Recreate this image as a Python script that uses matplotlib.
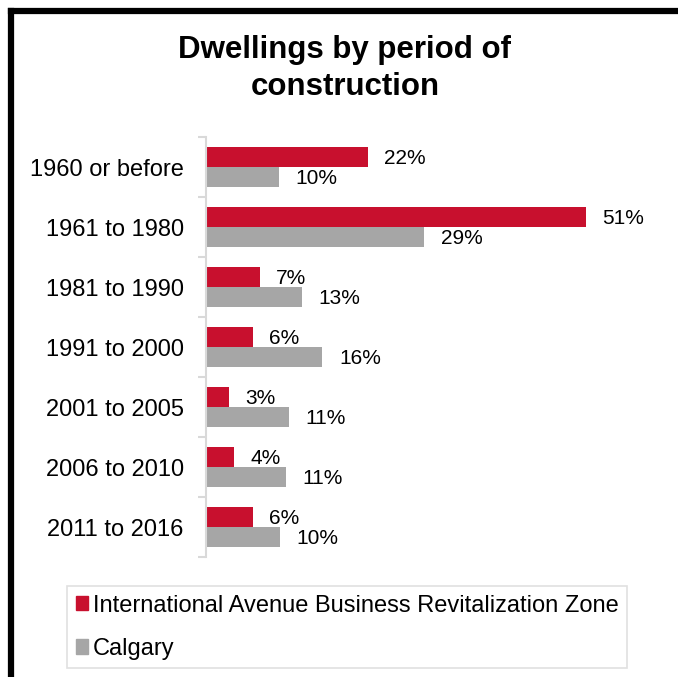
import matplotlib
matplotlib.use("Agg")
import matplotlib.pyplot as plt
import numpy as np
from matplotlib.lines import Line2D
from matplotlib.patches import Patch

plt.rcParams['font.family'] = ['Liberation Sans', 'DejaVu Sans']

# data (percent of dwellings)
periods = ["1960 or before", "1961 to 1980", "1981 to 1990", "1991 to 2000",
           "2001 to 2005", "2006 to 2010", "2011 to 2016"]
zone_pct = [21.7, 51.0, 7.2, 6.3, 3.1, 3.8, 6.3]
calgary_pct = [9.8, 29.3, 12.9, 15.6, 11.1, 10.7, 9.9]
series_names = ["International Avenue Business Revitalization Zone", "Calgary"]
title_lines = ["Dwellings by period of", "construction"]

red = '#C8102E'
grey = '#A6A6A6'
light = '#D9D9D9'

W, H = 678, 677
fig = plt.figure(figsize=(W / 100, H / 100), dpi=100)

# axes placed in pixel terms
left, right, top, bottom = 206, 653, 137, 557
ax = fig.add_axes([left / W, 1 - bottom / H, (right - left) / W, (bottom - top) / H])

y = np.arange(len(periods))
bh = 1 / 3
ax.barh(y - bh / 2, zone_pct, height=bh, color=red, label=series_names[0])
ax.barh(y + bh / 2, calgary_pct, height=bh, color=grey, label=series_names[1])

for i in range(len(periods)):
    ax.annotate(f"{round(zone_pct[i])}%", (zone_pct[i], y[i] - bh / 2),
                xytext=(11.5, -1), textcoords='offset points',
                va='center', ha='left', fontsize=15)
    ax.annotate(f"{round(calgary_pct[i])}%", (calgary_pct[i], y[i] + bh / 2),
                xytext=(12, -1), textcoords='offset points',
                va='center', ha='left', fontsize=15)

ax.set_xlim(0, 60)
ax.set_ylim(len(periods) - 0.5, -0.5)

# category boundaries get the tick marks, centres get the labels
ax.set_yticks(np.arange(-0.5, len(periods)))
ax.set_yticklabels([])
ax.set_yticks(y, minor=True)
ax.set_yticklabels(periods, minor=True, fontsize=17)
ax.tick_params(axis='y', which='major', length=6, width=1.5, color=light, direction='out')
ax.tick_params(axis='y', which='minor', length=0, pad=16)
ax.set_xticks([])

for s in ['top', 'right', 'bottom']:
    ax.spines[s].set_visible(False)
ax.spines['left'].set_color(light)
ax.spines['left'].set_linewidth(1.5)

# title, two lines on their own baselines
fig.text(345 / W, 1 - 58 / H, title_lines[0], ha='center', va='baseline',
         fontsize=22.5, fontweight='bold')
fig.text(345 / W, 1 - 95 / H, title_lines[1], ha='center', va='baseline',
         fontsize=22.5, fontweight='bold')

# legend
handles = [Patch(color=red), Patch(color=grey)]
leg = fig.legend(handles, series_names, loc='upper left',
                 bbox_to_anchor=(67 / W, 1 - 586 / H), fontsize=17,
                 frameon=True, fancybox=False, edgecolor=light,
                 handlelength=0.55, handleheight=0.55, handletextpad=0.2,
                 labelspacing=0.9, borderpad=0.36, borderaxespad=0)
leg.get_frame().set_linewidth(1.2)

# black frame on the left and top
fig.add_artist(Line2D([11 / W, 11 / W], [0, 1 - 11 / H], color='black', lw=4.5,
                      transform=fig.transFigure, solid_capstyle='projecting'))
fig.add_artist(Line2D([11 / W, 1], [1 - 11 / H, 1 - 11 / H], color='black', lw=4.5,
                      transform=fig.transFigure, solid_capstyle='projecting'))

fig.savefig("out.png", dpi=100)
